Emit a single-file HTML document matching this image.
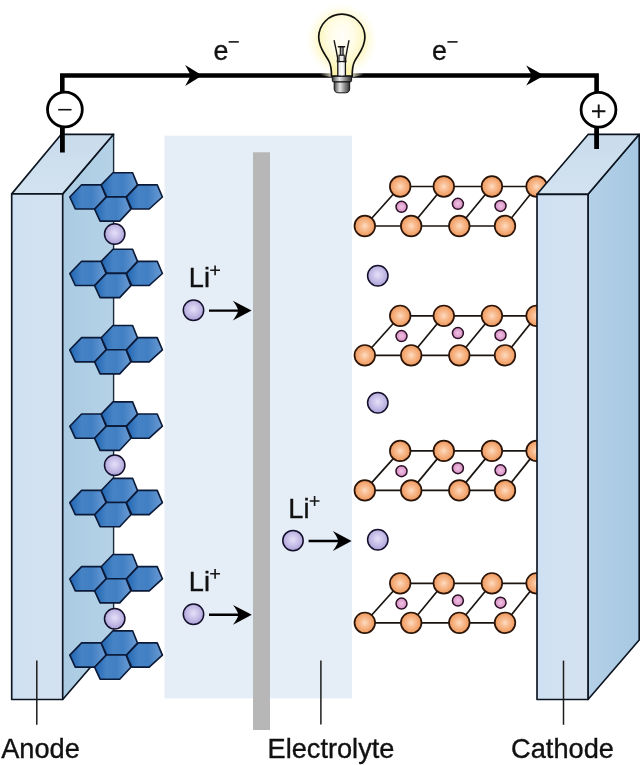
<!DOCTYPE html>
<html><head><meta charset="utf-8"><title>Lithium-ion battery</title>
<style>
html,body{margin:0;padding:0;background:#fff;}
body{width:640px;height:765px;overflow:hidden;font-family:"Liberation Sans",sans-serif;}
svg{display:block;will-change:transform;}
text{font-family:"Liberation Sans",sans-serif;fill:#111;stroke:#111;stroke-width:0.35px;}
</style></head><body>
<svg width="640" height="765" viewBox="0 0 640 765">
<defs>
<linearGradient id="hexg" x1="0" y1="0" x2="1" y2="0">
<stop offset="0" stop-color="#2065b2"/><stop offset="0.33" stop-color="#4683c5"/><stop offset="0.6" stop-color="#417fc3"/><stop offset="1" stop-color="#6b9bd3"/>
</linearGradient>
<radialGradient id="lig" cx="0.5" cy="0.45" r="0.55">
<stop offset="0" stop-color="#e6e0f8"/><stop offset="0.6" stop-color="#c4bbe6"/><stop offset="1" stop-color="#a99fd8"/>
</radialGradient>
<radialGradient id="org" cx="0.5" cy="0.5" r="0.55">
<stop offset="0" stop-color="#fddcc2"/><stop offset="0.35" stop-color="#f8bd92"/><stop offset="0.7" stop-color="#f3a56e"/><stop offset="1" stop-color="#e98e52"/>
</radialGradient>
<radialGradient id="pkg" cx="0.5" cy="0.5" r="0.55">
<stop offset="0" stop-color="#f0c2e3"/><stop offset="1" stop-color="#d488c0"/>
</radialGradient>
<linearGradient id="frontg" x1="0" y1="0" x2="1" y2="0">
<stop offset="0" stop-color="#cde0f3"/><stop offset="0.35" stop-color="#d2e1f1"/><stop offset="1" stop-color="#d4e2f0"/>
</linearGradient>
<linearGradient id="sideg" x1="0" y1="0" x2="1" y2="0">
<stop offset="0" stop-color="#a9cbe2"/><stop offset="1" stop-color="#b6d2e7"/>
</linearGradient>
<linearGradient id="csideg" x1="0" y1="0" x2="1" y2="0">
<stop offset="0" stop-color="#b4d0e7"/><stop offset="1" stop-color="#a6c8e2"/>
</linearGradient>
<linearGradient id="topg" x1="0" y1="0" x2="0" y2="1">
<stop offset="0" stop-color="#c9dcec"/><stop offset="1" stop-color="#d3e2ef"/>
</linearGradient>
<radialGradient id="glow" cx="0.5" cy="0.5" r="0.5">
<stop offset="0" stop-color="#fdf6b8" stop-opacity="1"/><stop offset="0.6" stop-color="#fdf6b8" stop-opacity="0.9"/><stop offset="1" stop-color="#fffbe0" stop-opacity="0"/>
</radialGradient>
<radialGradient id="glass" cx="0.5" cy="0.36" r="0.6">
<stop offset="0" stop-color="#fffefa"/><stop offset="0.45" stop-color="#fffce6"/><stop offset="0.8" stop-color="#fcf6c2"/><stop offset="1" stop-color="#faf1aa"/>
</radialGradient>
<linearGradient id="baseg" x1="0" y1="0" x2="1" y2="0">
<stop offset="0" stop-color="#3e3e3e"/><stop offset="0.15" stop-color="#8a8a8a"/><stop offset="0.38" stop-color="#e6e6e6"/><stop offset="0.62" stop-color="#9c9c9c"/><stop offset="0.85" stop-color="#5e5e5e"/><stop offset="1" stop-color="#2e2e2e"/>
</linearGradient>
<linearGradient id="fadeL" x1="0" y1="0" x2="1" y2="0">
<stop offset="0" stop-color="#f3efd6" stop-opacity="0"/><stop offset="1" stop-color="#f3efd6" stop-opacity="0.85"/>
</linearGradient>
<linearGradient id="fadeR" x1="0" y1="0" x2="1" y2="0">
<stop offset="0" stop-color="#f3efd6" stop-opacity="0.85"/><stop offset="1" stop-color="#f3efd6" stop-opacity="0"/>
</linearGradient>
</defs>
<rect x="0" y="0" width="640" height="765" fill="#ffffff"/>

<rect x="164.5" y="135.7" width="187.5" height="562.7" fill="#e5edf7"/>
<rect x="253" y="152.3" width="17" height="577.7" fill="#b7b7b7"/>
<polygon points="62.7,193.9 113.5,134.3 113.5,640.5 62.7,699.5" fill="url(#sideg)"/>
<path d="M62.7,193.9 L113.5,134.3 M113.5,640.5 L62.7,699.5" fill="none" stroke="#0c1420" stroke-width="1.65" stroke-linecap="round"/>
<line x1="113.6" y1="134.3" x2="113.6" y2="640" stroke="#1b2a3c" stroke-width="1.4"/>
<polygon points="11.7,193.9 61.3,134.3 113.5,134.3 62.7,193.9" fill="url(#topg)" stroke="#0c1420" stroke-width="1.65" stroke-linejoin="round"/>
<rect x="11.7" y="193.9" width="51" height="505.6" fill="url(#frontg)" stroke="#0c1420" stroke-width="1.65" stroke-linejoin="round"/>
<polygon points="588,194.3 639.2,134.3 639.2,640 588,699.5" fill="url(#csideg)" stroke="#0c1420" stroke-width="1.65" stroke-linejoin="round"/>
<g stroke="#1a1410" stroke-width="1.7" fill="none">
<line x1="400.2" y1="186.5" x2="536.6" y2="186.5"/>
<line x1="364.8" y1="226.0" x2="505.0" y2="226.0"/>
<line x1="364.8" y1="226.0" x2="400.2" y2="186.5"/>
<line x1="411.2" y1="226.0" x2="443.8" y2="186.5"/>
<line x1="459.3" y1="226.0" x2="491.9" y2="186.5"/>
<line x1="505.0" y1="226.0" x2="536.6" y2="186.5"/>
</g>
<circle cx="401.5" cy="206.8" r="5.5" fill="url(#pkg)" stroke="#2a1024" stroke-width="1.5"/>
<circle cx="457.9" cy="203.8" r="5.5" fill="url(#pkg)" stroke="#2a1024" stroke-width="1.5"/>
<circle cx="500.5" cy="205.9" r="5.5" fill="url(#pkg)" stroke="#2a1024" stroke-width="1.5"/>
<circle cx="400.2" cy="186.5" r="10.3" fill="url(#org)" stroke="#2a1408" stroke-width="1.7"/>
<circle cx="443.8" cy="186.5" r="10.3" fill="url(#org)" stroke="#2a1408" stroke-width="1.7"/>
<circle cx="491.9" cy="186.5" r="10.3" fill="url(#org)" stroke="#2a1408" stroke-width="1.7"/>
<circle cx="536.6" cy="186.5" r="10.3" fill="url(#org)" stroke="#2a1408" stroke-width="1.7"/>
<circle cx="364.8" cy="226.0" r="10.3" fill="url(#org)" stroke="#2a1408" stroke-width="1.7"/>
<circle cx="411.2" cy="226.0" r="10.3" fill="url(#org)" stroke="#2a1408" stroke-width="1.7"/>
<circle cx="459.3" cy="226.0" r="10.3" fill="url(#org)" stroke="#2a1408" stroke-width="1.7"/>
<circle cx="505.0" cy="226.0" r="10.3" fill="url(#org)" stroke="#2a1408" stroke-width="1.7"/>
<g stroke="#1a1410" stroke-width="1.7" fill="none">
<line x1="400.2" y1="315.8" x2="536.6" y2="315.8"/>
<line x1="364.8" y1="355.3" x2="505.0" y2="355.3"/>
<line x1="364.8" y1="355.3" x2="400.2" y2="315.8"/>
<line x1="411.2" y1="355.3" x2="443.8" y2="315.8"/>
<line x1="459.3" y1="355.3" x2="491.9" y2="315.8"/>
<line x1="505.0" y1="355.3" x2="536.6" y2="315.8"/>
</g>
<circle cx="401.5" cy="336.1" r="5.5" fill="url(#pkg)" stroke="#2a1024" stroke-width="1.5"/>
<circle cx="457.9" cy="333.1" r="5.5" fill="url(#pkg)" stroke="#2a1024" stroke-width="1.5"/>
<circle cx="500.5" cy="335.2" r="5.5" fill="url(#pkg)" stroke="#2a1024" stroke-width="1.5"/>
<circle cx="400.2" cy="315.8" r="10.3" fill="url(#org)" stroke="#2a1408" stroke-width="1.7"/>
<circle cx="443.8" cy="315.8" r="10.3" fill="url(#org)" stroke="#2a1408" stroke-width="1.7"/>
<circle cx="491.9" cy="315.8" r="10.3" fill="url(#org)" stroke="#2a1408" stroke-width="1.7"/>
<circle cx="536.6" cy="315.8" r="10.3" fill="url(#org)" stroke="#2a1408" stroke-width="1.7"/>
<circle cx="364.8" cy="355.3" r="10.3" fill="url(#org)" stroke="#2a1408" stroke-width="1.7"/>
<circle cx="411.2" cy="355.3" r="10.3" fill="url(#org)" stroke="#2a1408" stroke-width="1.7"/>
<circle cx="459.3" cy="355.3" r="10.3" fill="url(#org)" stroke="#2a1408" stroke-width="1.7"/>
<circle cx="505.0" cy="355.3" r="10.3" fill="url(#org)" stroke="#2a1408" stroke-width="1.7"/>
<g stroke="#1a1410" stroke-width="1.7" fill="none">
<line x1="400.2" y1="450.9" x2="536.6" y2="450.9"/>
<line x1="364.8" y1="490.4" x2="505.0" y2="490.4"/>
<line x1="364.8" y1="490.4" x2="400.2" y2="450.9"/>
<line x1="411.2" y1="490.4" x2="443.8" y2="450.9"/>
<line x1="459.3" y1="490.4" x2="491.9" y2="450.9"/>
<line x1="505.0" y1="490.4" x2="536.6" y2="450.9"/>
</g>
<circle cx="401.5" cy="471.2" r="5.5" fill="url(#pkg)" stroke="#2a1024" stroke-width="1.5"/>
<circle cx="457.9" cy="468.2" r="5.5" fill="url(#pkg)" stroke="#2a1024" stroke-width="1.5"/>
<circle cx="500.5" cy="470.3" r="5.5" fill="url(#pkg)" stroke="#2a1024" stroke-width="1.5"/>
<circle cx="400.2" cy="450.9" r="10.3" fill="url(#org)" stroke="#2a1408" stroke-width="1.7"/>
<circle cx="443.8" cy="450.9" r="10.3" fill="url(#org)" stroke="#2a1408" stroke-width="1.7"/>
<circle cx="491.9" cy="450.9" r="10.3" fill="url(#org)" stroke="#2a1408" stroke-width="1.7"/>
<circle cx="536.6" cy="450.9" r="10.3" fill="url(#org)" stroke="#2a1408" stroke-width="1.7"/>
<circle cx="364.8" cy="490.4" r="10.3" fill="url(#org)" stroke="#2a1408" stroke-width="1.7"/>
<circle cx="411.2" cy="490.4" r="10.3" fill="url(#org)" stroke="#2a1408" stroke-width="1.7"/>
<circle cx="459.3" cy="490.4" r="10.3" fill="url(#org)" stroke="#2a1408" stroke-width="1.7"/>
<circle cx="505.0" cy="490.4" r="10.3" fill="url(#org)" stroke="#2a1408" stroke-width="1.7"/>
<g stroke="#1a1410" stroke-width="1.7" fill="none">
<line x1="400.2" y1="583.3" x2="536.6" y2="583.3"/>
<line x1="364.8" y1="622.8" x2="505.0" y2="622.8"/>
<line x1="364.8" y1="622.8" x2="400.2" y2="583.3"/>
<line x1="411.2" y1="622.8" x2="443.8" y2="583.3"/>
<line x1="459.3" y1="622.8" x2="491.9" y2="583.3"/>
<line x1="505.0" y1="622.8" x2="536.6" y2="583.3"/>
</g>
<circle cx="401.5" cy="603.6" r="5.5" fill="url(#pkg)" stroke="#2a1024" stroke-width="1.5"/>
<circle cx="457.9" cy="600.6" r="5.5" fill="url(#pkg)" stroke="#2a1024" stroke-width="1.5"/>
<circle cx="500.5" cy="602.7" r="5.5" fill="url(#pkg)" stroke="#2a1024" stroke-width="1.5"/>
<circle cx="400.2" cy="583.3" r="10.3" fill="url(#org)" stroke="#2a1408" stroke-width="1.7"/>
<circle cx="443.8" cy="583.3" r="10.3" fill="url(#org)" stroke="#2a1408" stroke-width="1.7"/>
<circle cx="491.9" cy="583.3" r="10.3" fill="url(#org)" stroke="#2a1408" stroke-width="1.7"/>
<circle cx="536.6" cy="583.3" r="10.3" fill="url(#org)" stroke="#2a1408" stroke-width="1.7"/>
<circle cx="364.8" cy="622.8" r="10.3" fill="url(#org)" stroke="#2a1408" stroke-width="1.7"/>
<circle cx="411.2" cy="622.8" r="10.3" fill="url(#org)" stroke="#2a1408" stroke-width="1.7"/>
<circle cx="459.3" cy="622.8" r="10.3" fill="url(#org)" stroke="#2a1408" stroke-width="1.7"/>
<circle cx="505.0" cy="622.8" r="10.3" fill="url(#org)" stroke="#2a1408" stroke-width="1.7"/>
<polygon points="537,194.3 588.3,134.3 639.2,134.3 588,194.3" fill="url(#topg)" stroke="#0c1420" stroke-width="1.65" stroke-linejoin="round"/>
<rect x="537" y="194.3" width="51" height="505.2" fill="url(#frontg)" stroke="#0c1420" stroke-width="1.65" stroke-linejoin="round"/>
<polygon points="69.8,197.0 81.6,184.8 101.2,184.8 106.1,197.0 94.9,209.0 75.3,209.0" fill="url(#hexg)" stroke="#0b1a38" stroke-width="1.65" stroke-linejoin="round"/>
<polygon points="126.3,197.0 138.1,184.8 157.2,184.8 162.4,197.0 149.2,209.0 131.8,209.0" fill="url(#hexg)" stroke="#0b1a38" stroke-width="1.65" stroke-linejoin="round"/>
<polygon points="101.2,184.9 113.0,172.7 132.6,172.7 137.5,184.9 126.3,196.9 106.7,196.9" fill="url(#hexg)" stroke="#0b1a38" stroke-width="1.65" stroke-linejoin="round"/>
<polygon points="94.6,209.1 106.4,196.9 126.0,196.9 130.9,209.1 119.7,221.1 100.1,221.1" fill="url(#hexg)" stroke="#0b1a38" stroke-width="1.65" stroke-linejoin="round"/>
<polygon points="69.8,273.5 81.6,261.3 101.2,261.3 106.1,273.5 94.9,285.5 75.3,285.5" fill="url(#hexg)" stroke="#0b1a38" stroke-width="1.65" stroke-linejoin="round"/>
<polygon points="126.3,273.5 138.1,261.3 157.2,261.3 162.4,273.5 149.2,285.5 131.8,285.5" fill="url(#hexg)" stroke="#0b1a38" stroke-width="1.65" stroke-linejoin="round"/>
<polygon points="101.2,261.4 113.0,249.2 132.6,249.2 137.5,261.4 126.3,273.4 106.7,273.4" fill="url(#hexg)" stroke="#0b1a38" stroke-width="1.65" stroke-linejoin="round"/>
<polygon points="94.6,285.6 106.4,273.4 126.0,273.4 130.9,285.6 119.7,297.6 100.1,297.6" fill="url(#hexg)" stroke="#0b1a38" stroke-width="1.65" stroke-linejoin="round"/>
<polygon points="69.8,349.8 81.6,337.6 101.2,337.6 106.1,349.8 94.9,361.8 75.3,361.8" fill="url(#hexg)" stroke="#0b1a38" stroke-width="1.65" stroke-linejoin="round"/>
<polygon points="126.3,349.8 138.1,337.6 157.2,337.6 162.4,349.8 149.2,361.8 131.8,361.8" fill="url(#hexg)" stroke="#0b1a38" stroke-width="1.65" stroke-linejoin="round"/>
<polygon points="101.2,337.7 113.0,325.5 132.6,325.5 137.5,337.7 126.3,349.7 106.7,349.7" fill="url(#hexg)" stroke="#0b1a38" stroke-width="1.65" stroke-linejoin="round"/>
<polygon points="94.6,361.9 106.4,349.7 126.0,349.7 130.9,361.9 119.7,373.9 100.1,373.9" fill="url(#hexg)" stroke="#0b1a38" stroke-width="1.65" stroke-linejoin="round"/>
<polygon points="69.8,426.2 81.6,414.0 101.2,414.0 106.1,426.2 94.9,438.2 75.3,438.2" fill="url(#hexg)" stroke="#0b1a38" stroke-width="1.65" stroke-linejoin="round"/>
<polygon points="126.3,426.2 138.1,414.0 157.2,414.0 162.4,426.2 149.2,438.2 131.8,438.2" fill="url(#hexg)" stroke="#0b1a38" stroke-width="1.65" stroke-linejoin="round"/>
<polygon points="101.2,414.1 113.0,401.9 132.6,401.9 137.5,414.1 126.3,426.1 106.7,426.1" fill="url(#hexg)" stroke="#0b1a38" stroke-width="1.65" stroke-linejoin="round"/>
<polygon points="94.6,438.3 106.4,426.1 126.0,426.1 130.9,438.3 119.7,450.3 100.1,450.3" fill="url(#hexg)" stroke="#0b1a38" stroke-width="1.65" stroke-linejoin="round"/>
<polygon points="69.8,502.6 81.6,490.4 101.2,490.4 106.1,502.6 94.9,514.6 75.3,514.6" fill="url(#hexg)" stroke="#0b1a38" stroke-width="1.65" stroke-linejoin="round"/>
<polygon points="126.3,502.6 138.1,490.4 157.2,490.4 162.4,502.6 149.2,514.6 131.8,514.6" fill="url(#hexg)" stroke="#0b1a38" stroke-width="1.65" stroke-linejoin="round"/>
<polygon points="101.2,490.5 113.0,478.3 132.6,478.3 137.5,490.5 126.3,502.5 106.7,502.5" fill="url(#hexg)" stroke="#0b1a38" stroke-width="1.65" stroke-linejoin="round"/>
<polygon points="94.6,514.7 106.4,502.5 126.0,502.5 130.9,514.7 119.7,526.7 100.1,526.7" fill="url(#hexg)" stroke="#0b1a38" stroke-width="1.65" stroke-linejoin="round"/>
<polygon points="69.8,578.8 81.6,566.6 101.2,566.6 106.1,578.8 94.9,590.8 75.3,590.8" fill="url(#hexg)" stroke="#0b1a38" stroke-width="1.65" stroke-linejoin="round"/>
<polygon points="126.3,578.8 138.1,566.6 157.2,566.6 162.4,578.8 149.2,590.8 131.8,590.8" fill="url(#hexg)" stroke="#0b1a38" stroke-width="1.65" stroke-linejoin="round"/>
<polygon points="101.2,566.7 113.0,554.5 132.6,554.5 137.5,566.7 126.3,578.7 106.7,578.7" fill="url(#hexg)" stroke="#0b1a38" stroke-width="1.65" stroke-linejoin="round"/>
<polygon points="94.6,590.9 106.4,578.7 126.0,578.7 130.9,590.9 119.7,602.9 100.1,602.9" fill="url(#hexg)" stroke="#0b1a38" stroke-width="1.65" stroke-linejoin="round"/>
<polygon points="69.8,655.1 81.6,642.9 101.2,642.9 106.1,655.1 94.9,667.1 75.3,667.1" fill="url(#hexg)" stroke="#0b1a38" stroke-width="1.65" stroke-linejoin="round"/>
<polygon points="126.3,655.1 138.1,642.9 157.2,642.9 162.4,655.1 149.2,667.1 131.8,667.1" fill="url(#hexg)" stroke="#0b1a38" stroke-width="1.65" stroke-linejoin="round"/>
<polygon points="101.2,643.0 113.0,630.8 132.6,630.8 137.5,643.0 126.3,655.0 106.7,655.0" fill="url(#hexg)" stroke="#0b1a38" stroke-width="1.65" stroke-linejoin="round"/>
<polygon points="94.6,667.2 106.4,655.0 126.0,655.0 130.9,667.2 119.7,679.2 100.1,679.2" fill="url(#hexg)" stroke="#0b1a38" stroke-width="1.65" stroke-linejoin="round"/>
<circle cx="114.7" cy="234.0" r="10.2" fill="url(#lig)" stroke="#14102a" stroke-width="1.5"/>
<circle cx="114.7" cy="465.2" r="10.2" fill="url(#lig)" stroke="#14102a" stroke-width="1.5"/>
<circle cx="114.7" cy="618.7" r="10.2" fill="url(#lig)" stroke="#14102a" stroke-width="1.5"/>
<circle cx="377.8" cy="275.8" r="10.2" fill="url(#lig)" stroke="#14102a" stroke-width="1.5"/>
<circle cx="377.8" cy="402.8" r="10.2" fill="url(#lig)" stroke="#14102a" stroke-width="1.5"/>
<circle cx="377.8" cy="539.8" r="10.2" fill="url(#lig)" stroke="#14102a" stroke-width="1.5"/>
<circle cx="193.5" cy="310.2" r="10.2" fill="url(#lig)" stroke="#14102a" stroke-width="1.5"/>
<circle cx="193.5" cy="614.3" r="10.2" fill="url(#lig)" stroke="#14102a" stroke-width="1.5"/>
<circle cx="293.0" cy="540.6" r="10.2" fill="url(#lig)" stroke="#14102a" stroke-width="1.5"/>
<line x1="209" y1="310.6" x2="243.6" y2="310.6" stroke="#000" stroke-width="2.4"/>
<path d="M251.6,310.6 L232.79999999999998,300.70000000000005 Q237.4,306.6 238.2,310.6 Q237.4,314.6 232.79999999999998,320.5 Z" fill="#000"/>
<line x1="209" y1="614.8" x2="243.8" y2="614.8" stroke="#000" stroke-width="2.4"/>
<path d="M251.8,614.8 L233.0,604.9 Q237.60000000000002,610.8 238.4,614.8 Q237.60000000000002,618.8 233.0,624.6999999999999 Z" fill="#000"/>
<line x1="308.6" y1="541.0" x2="343.6" y2="541.0" stroke="#000" stroke-width="2.4"/>
<path d="M351.6,541.0 L332.8,531.1 Q337.40000000000003,537.0 338.20000000000005,541.0 Q337.40000000000003,545.0 332.8,550.9 Z" fill="#000"/>
<text x="188.8" y="287.0" font-size="27.2">Li</text>
<path d="M210.20000000000002,270.3 H220.00000000000003 M215.10000000000002,265.40000000000003 V275.2" stroke="#161616" stroke-width="1.6" fill="none"/>
<text x="188.8" y="590.5" font-size="27.2">Li</text>
<path d="M210.20000000000002,573.8 H220.00000000000003 M215.10000000000002,568.9 V578.6999999999999" stroke="#161616" stroke-width="1.6" fill="none"/>
<text x="288.3" y="517.7" font-size="27.2">Li</text>
<path d="M309.70000000000005,501.00000000000006 H319.5 M314.6,496.1000000000001 V505.90000000000003" stroke="#161616" stroke-width="1.6" fill="none"/>
<path d="M62.3,127 V75.5 H596.6 V127" fill="none" stroke="#000" stroke-width="4.6" stroke-linejoin="miter"/>
<line x1="62.4" y1="127" x2="62.4" y2="152.5" stroke="#000" stroke-width="4.8"/>
<line x1="596.6" y1="127" x2="596.6" y2="149" stroke="#000" stroke-width="4.8"/>
<polygon points="202.2,75.5 185.2,65 190.8,75.5 185.2,86" fill="#000"/>
<polygon points="544.2,75.5 526.2,65.4 532,75.5 526.2,85.6" fill="#000"/>
<circle cx="64.9" cy="109.5" r="17.4" fill="#fff" stroke="#000" stroke-width="2.8"/>
<line x1="58.2" y1="109.7" x2="71.5" y2="109.7" stroke="#111" stroke-width="1.6"/>
<circle cx="598.5" cy="109.7" r="17.4" fill="#fff" stroke="#000" stroke-width="2.8"/>
<path d="M592,111.2 H605.4 M598.7,104.4 V118" stroke="#111" stroke-width="1.9" fill="none"/>
<text x="213.6" y="59.5" font-size="26.8">e</text>
<line x1="228.6" y1="41.9" x2="238.8" y2="41.9" stroke="#161616" stroke-width="1.6"/>
<text x="432.0" y="59.5" font-size="26.8">e</text>
<line x1="447.4" y1="41.9" x2="457.6" y2="41.9" stroke="#161616" stroke-width="1.6"/>
<ellipse cx="341.8" cy="40" rx="36" ry="37" fill="url(#glow)"/>
<polygon points="320,73 331.6,73 331.6,77.2 320,75" fill="url(#fadeL)"/>
<polygon points="352.1,73 364,73 364,75 352.1,77.2" fill="url(#fadeR)"/>
<path d="M331.5,76.2 C331.5,71 331.2,66 329.3,62 C326,55 318.7,48.5 318.7,37.3 A23.1,23.1 0 0 1 364.9,37.3 C364.9,48.5 357.6,55 354.3,62 C352.4,66 352.2,71 352.2,76.2 Z" fill="url(#glass)" stroke="#111" stroke-width="1.7"/>
<path d="M334.2,40.8 C335.6,47 336.8,53 337.7,58.4 L337.4,62 M348.9,40.8 C347.6,47 346.4,53 345.6,58.4 L345.8,62" fill="none" stroke="#151515" stroke-width="1.4" stroke-linecap="round"/>
<path d="M338.4,46.8 H344.6" fill="none" stroke="#151515" stroke-width="1.6" stroke-linecap="round"/>
<rect x="340.3" y="47" width="2.8" height="8.5" fill="#9a9a9a" stroke="#151515" stroke-width="1.1"/>
<rect x="339" y="55.2" width="5.2" height="6.4" fill="#e9e9e9" stroke="#151515" stroke-width="1.1"/>
<rect x="337.8" y="61.6" width="7.6" height="14.6" fill="#ededed" stroke="#151515" stroke-width="1.3"/>
<rect x="340.6" y="62.5" width="2.4" height="13" fill="#fafafa"/>
<rect x="332.3" y="76.3" width="19.3" height="5.6" rx="1.5" fill="url(#baseg)" stroke="#111" stroke-width="1"/>
<path d="M334.2,82 H349.7 V88.5 Q349.7,92.8 345.5,92.8 H338.4 Q334.2,92.8 334.2,88.5 Z" fill="url(#baseg)" stroke="#111" stroke-width="1"/>
<g stroke="#1c1c1c" stroke-width="1.5">
<line x1="36.8" y1="660.6" x2="36.8" y2="724.8"/>
<line x1="320.9" y1="660.4" x2="320.9" y2="724.6"/>
<line x1="563.5" y1="660.6" x2="563.5" y2="724.8"/>
</g>
<text x="1.2" y="758.4" font-size="27.2">Anode</text>
<text x="267.5" y="758.4" font-size="27.2">Electrolyte</text>
<text x="511.1" y="758.4" font-size="27.2">Cathode</text>
</svg></body></html>
